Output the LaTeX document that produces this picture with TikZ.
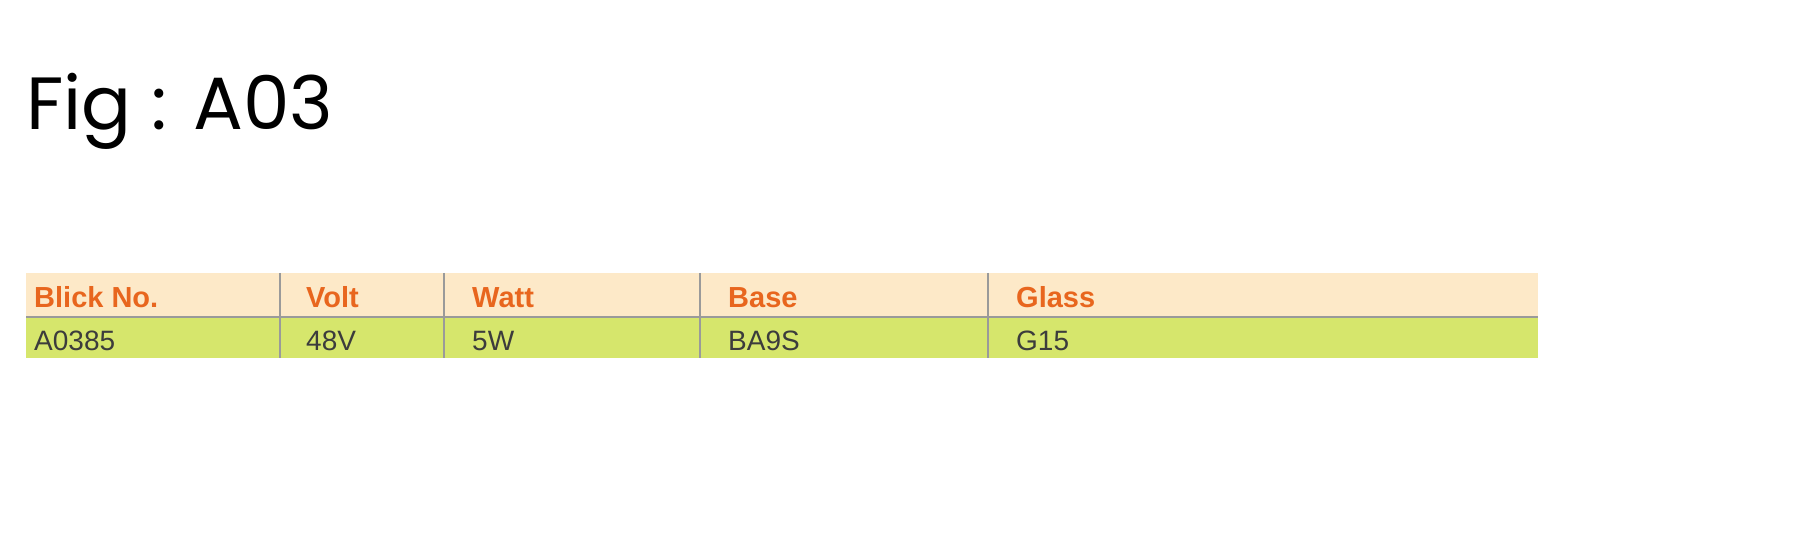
\documentclass[tikz,border=0pt]{standalone}
\usepackage{fontspec}
\setmainfont{Liberation Sans}
\newfontfamily\titlefont{Poppins}
\definecolor{peach}{HTML}{FDE9C8}
\definecolor{lime}{HTML}{D6E66C}
\definecolor{orng}{HTML}{E8661E}
\definecolor{sep}{HTML}{9A9A9A}
\definecolor{txt}{HTML}{3C3C3C}
\begin{document}
\begin{tikzpicture}[x=1pt,y=-1pt,
  hdr/.style={anchor=base west,inner sep=0pt,text=orng,font=\fontsize{29}{30}\selectfont\bfseries},
  cell/.style={anchor=base west,inner sep=0pt,text=txt,font=\fontsize{28}{30}\selectfont}]
\useasboundingbox[fill=white] (0,0) rectangle (1806,534);
\node[anchor=base west,inner sep=0pt,font=\titlefont\fontsize{74}{84}\selectfont] (title) at (26,130) {Fig : A03};
\fill[peach] (26,273) rectangle (1538,316);
\fill[lime] (26,318) rectangle (1538,358);
\draw[sep,line width=2.5pt] (26,317) -- (1538,317);
\foreach \x in {280,444,700,988} \draw[sep,line width=2pt] (\x,273) -- (\x,358);
\node[hdr] (h1) at (34,308) {Blick No.};
\node[hdr] (h2) at (306,308) {Volt};
\node[hdr] (h3) at (472,308) {Watt};
\node[hdr] (h4) at (728,308) {Base};
\node[hdr] (h5) at (1016,308) {Glass};
\node[cell] (c1) at (34,351) {A0385};
\node[cell] (c2) at (306,351) {48V};
\node[cell] (c3) at (472,351) {5W};
\node[cell] (c4) at (728,351) {BA9S};
\node[cell] (c5) at (1016,351) {G15};
\end{tikzpicture}
\end{document}
